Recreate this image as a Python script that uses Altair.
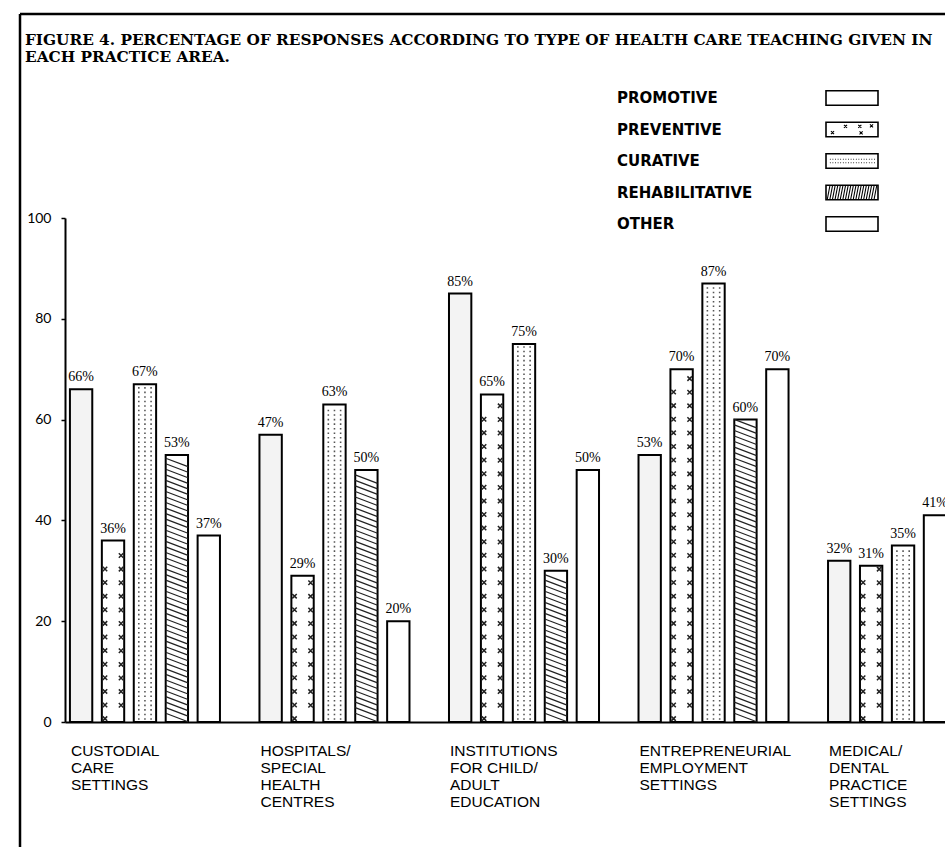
import json
import altair as alt
import pandas as pd

# ---------------- data ----------------
areas = [
    "CUSTODIAL|CARE|SETTINGS",
    "HOSPITALS/|SPECIAL|HEALTH|CENTRES",
    "INSTITUTIONS|FOR CHILD/|ADULT|EDUCATION",
    "ENTREPRENEURIAL|EMPLOYMENT|SETTINGS",
    "MEDICAL/|DENTAL|PRACTICE|SETTINGS",
]
series = ["PROMOTIVE", "PREVENTIVE", "CURATIVE", "REHABILITATIVE", "OTHER"]

promotive = [66, 57, 85, 53, 32]
preventive = [36, 29, 65, 70, 31]
curative = [67, 63, 75, 87, 35]
rehabilitative = [53, 50, 30, 60, None]
other = [37, 20, 50, 70, 41]

# percentages as printed above the bars (the hospitals/promotive bar is printed "47%")
promotive_printed = [66, 47, 85, 53, 32]

title_lines = [
    "FIGURE 4. PERCENTAGE OF RESPONSES ACCORDING TO TYPE OF HEALTH CARE TEACHING GIVEN IN",
    "EACH PRACTICE AREA.",
]

rows = []
for s, vals, printed in zip(
    series,
    [promotive, preventive, curative, rehabilitative, other],
    [promotive_printed, preventive, curative, rehabilitative, other],
):
    for a, v, p in zip(areas, vals, printed):
        rows.append({"area": a, "series": s, "value": v, "printed": p})
df = pd.DataFrame(rows)

# ---------------- encodings ----------------
order_expr = "indexof(" + json.dumps(series) + ", datum.series)"
base = (
    alt.Chart(df)
    .transform_filter("isValid(datum.value) && isFinite(datum.value)")
    .transform_calculate(order=order_expr, label="format(datum.printed, 'd') + '%'")
    .transform_window(
        slot="row_number()", groupby=["area"], sort=[alt.SortField("order", order="ascending")]
    )
)

x_enc = alt.X(
    "area:N",
    sort=areas,
    scale=alt.Scale(range=[0, 918], paddingInner=0.2084, paddingOuter=0.026),
    axis=alt.Axis(
        title=None,
        labelExpr="split(datum.label, '|')",
        labelAlign="left",
        labelBaseline="top",
        labelOffset=-74,
        labelPadding=21,
        labelAngle=0,
        ticks=False,
        tickSize=0,
        domainColor="black",
        domainWidth=2,
        labelFont="Liberation Sans",
        labelFontSize=15.5,
        labelLineHeight=17,
        labelColor="black",
    ),
)
xo_enc = alt.XOffset(
    "slot:O", scale=alt.Scale(domain=[1, 2, 3, 4, 5], paddingInner=0.3, paddingOuter=0)
)
y_scale = alt.Scale(domain=[0, 100], nice=False)
y_axis = alt.Axis(
    title=None,
    values=[0, 20, 40, 60, 80, 100],
    grid=False,
    tickSize=4,
    tickColor="black",
    tickWidth=1.5,
    domainColor="black",
    domainWidth=2,
    labelFont="Lato",
    labelFontSize=14,
    labelPadding=10,
    labelColor="black",
)

bars = base.mark_bar(stroke="black", strokeWidth=2).encode(
    x=x_enc,
    xOffset=xo_enc,
    y=alt.Y("value:Q", scale=y_scale, axis=y_axis),
    fill=alt.Fill(
        "series:N",
        scale=alt.Scale(domain=series, range=["#f3f3f3", "white", "white", "white", "white"]),
        legend=None,
    ),
)

BAR_SIZE = 499  # (bar width)^2 so a [-1,1] path spans the bar width

# rehabilitative hatching
hatch = (
    base.transform_filter(alt.datum.series == "REHABILITATIVE")
    .transform_calculate(yy="sequence(0.9, datum.value - 0.7, 1.1)")
    .transform_flatten(["yy"])
    .mark_point(shape="M-1,-0.38L1,0.38", filled=False, stroke="#222", strokeWidth=1.2,
                size=BAR_SIZE, opacity=1)
    .encode(x=x_enc, xOffset=xo_enc, y=alt.Y("yy:Q", scale=y_scale, axis=y_axis))
)

# curative dots
dot_cols = [-0.55, 0.0, 0.55]
dot_path = " ".join(
    f"M{c - 0.07:.2f},-0.07h0.14v0.14h-0.14z" for c in dot_cols
)
dots = (
    base.transform_filter(alt.datum.series == "CURATIVE")
    .transform_calculate(yy="sequence(0.6, datum.value - 0.4, 0.9)")
    .transform_flatten(["yy"])
    .mark_point(shape=dot_path, filled=True, fill="#555", strokeWidth=0, size=BAR_SIZE, opacity=1)
    .encode(x=x_enc, xOffset=xo_enc, y=alt.Y("yy:Q", scale=y_scale, axis=y_axis))
)

# preventive crosses
cross_path = (
    "M-0.92,0.4L-0.52,0.8M-0.92,0.8L-0.52,0.4"
    "M0.52,-0.8L0.92,-0.4M0.52,-0.4L0.92,-0.8"
)
crosses = (
    base.transform_filter(alt.datum.series == "PREVENTIVE")
    .transform_calculate(yy="sequence(2.0, datum.value - 1.8, 2.7)")
    .transform_flatten(["yy"])
    .mark_point(shape=cross_path, filled=False, stroke="#222", strokeWidth=1.5,
                size=BAR_SIZE, opacity=1)
    .encode(x=x_enc, xOffset=xo_enc, y=alt.Y("yy:Q", scale=y_scale, axis=y_axis))
)

labels = base.mark_text(
    font="Liberation Serif", fontSize=14, baseline="bottom", dy=-5, color="black"
).encode(
    x=x_enc, xOffset=xo_enc, y=alt.Y("value:Q", scale=y_scale, axis=y_axis), text="label:N"
)

main = alt.layer(bars, hatch, dots, crosses, labels)

# ---------------- custom legend ----------------
leg_df = pd.DataFrame({"series": series})
leg_y = alt.Y(
    "series:N", sort=series,
    scale=alt.Scale(type="point", domain=series, range=[-120, 6], padding=0), axis=None,
)
LEG_X_TEXT = 552
LEG_X_BOX = 787
LEG_SIZE = 52 * 52
box_path = "M-1,-0.28H1V0.28H-1Z"

leg_text = alt.Chart(leg_df).mark_text(
    align="left", baseline="middle", font="DejaVu Sans", fontWeight="bold", fontSize=15,
    color="black",
).encode(x=alt.value(LEG_X_TEXT), y=leg_y, text="series:N")

leg_box = alt.Chart(leg_df).mark_point(
    shape=box_path, filled=True, fill="white", stroke="black", strokeWidth=1.6,
    size=LEG_SIZE, opacity=1,
).encode(x=alt.value(LEG_X_BOX), y=leg_y)

# pattern swatches drawn inside the legend boxes
prev_sw = "".join(
    f"M{cx - 0.06:.2f},{cy - 0.06:.2f}L{cx + 0.06:.2f},{cy + 0.06:.2f}"
    f"M{cx - 0.06:.2f},{cy + 0.06:.2f}L{cx + 0.06:.2f},{cy - 0.06:.2f}"
    for cx, cy in [(-0.75, 0.12), (-0.25, -0.12), (0.3, -0.12), (0.75, -0.14), (0.35, 0.13)]
)
cur_sw = "".join(
    f"M{-0.85 + i * 0.1:.2f},{r:.2f}h0.03"
    for r in (-0.07, 0.07) for i in range(18)
)
reh_sw = "".join(
    f"M{-0.95 + i * 0.1:.2f},0.26L{-0.85 + i * 0.1:.2f},-0.26" for i in range(19)
)
leg_pat = alt.Chart(leg_df).mark_point(
    filled=False, stroke="black", strokeWidth=1.1, size=LEG_SIZE, opacity=1,
).encode(
    x=alt.value(LEG_X_BOX), y=leg_y,
    shape=alt.Shape(
        "series:N",
        scale=alt.Scale(domain=series, range=["M0,0", prev_sw, cur_sw, reh_sw, "M0,0"]),
        legend=None,
    ),
)

# page frame and figure caption
frame_df = pd.DataFrame({"k": [0]})
frame_left = alt.Chart(frame_df).mark_rule(color="black", strokeWidth=2.5).encode(
    x=alt.value(-45), y=alt.value(-204), y2=alt.value(629)
)
frame_top = alt.Chart(frame_df).mark_rule(color="black", strokeWidth=2.5).encode(
    x=alt.value(-45), x2=alt.value(880), y=alt.value(-204)
)
caption = alt.Chart(frame_df).mark_text(
    align="left", baseline="alphabetic", font="DejaVu Serif", fontWeight="bold",
    fontSize=15.3, lineHeight=17, color="black",
).encode(x=alt.value(-40), y=alt.value(-173), text=alt.value(title_lines))

deco = alt.layer(leg_box, leg_pat, leg_text, frame_left, frame_top, caption)

chart = (
    alt.layer(main, deco)
    .resolve_scale(y="independent", shape="independent")
    .properties(
        width=880,
        height=504,
        autosize=alt.AutoSizeParams(type="none"),
        padding={"left": 65, "top": 218, "right": 0, "bottom": 125},
        background="white",
    )
    .configure_view(stroke=None)
)

chart.save("out.html", embed_options={"renderer": "svg", "actions": False})
